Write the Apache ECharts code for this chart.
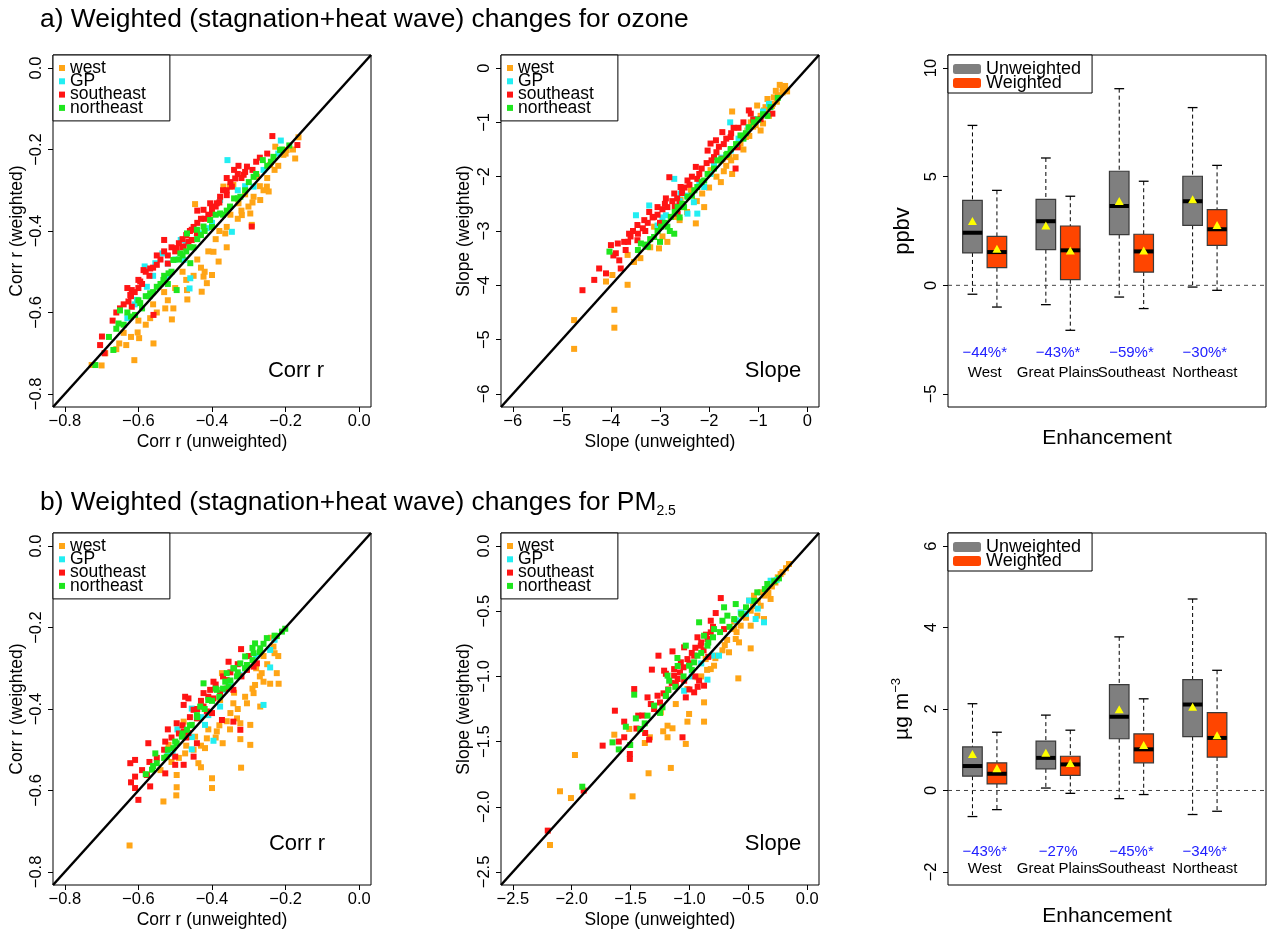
<!DOCTYPE html>
<html><head><meta charset="utf-8">
<script src="https://cdn.jsdelivr.net/npm/echarts@6/dist/echarts.min.js"></script>
<style>html,body{margin:0;padding:0;background:#fff}#c{width:1267px;height:931px}</style>
</head><body><div id="c"></div>
<script>
// ---------------- DATA ----------------
const seriesNames = ['west', 'GP', 'southeast', 'northeast'];
const regionNames = ['West', 'Great Plains', 'Southeast', 'Northeast'];
const pctO3 = ['\u221244%*', '\u221243%*', '\u221259%*', '\u221230%*'];
const pctPM = ['\u221243%*', '\u221227%', '\u221245%*', '\u221234%*'];

const corrTicks = [-0.8, -0.6, -0.4, -0.2, 0];
const slopeO3Ticks = [-6, -5, -4, -3, -2, -1, 0];
const slopePMTicks = [-2.5, -2, -1.5, -1, -0.5, 0];
const o3BoxTicks = [-5, 0, 5, 10];
const pmBoxTicks = [-2, 0, 2, 4, 6];

// a) ozone, correlation r : [unweighted, weighted]
const corrO3_west = [[-0.165,-0.17],[-0.174,-0.222],[-0.228,-0.193],[-0.251,-0.291],[-0.246,-0.303],[-0.301,-0.34],[-0.296,-0.357],[-0.319,-0.361],[-0.328,-0.332],[-0.292,-0.385],[-0.446,-0.334],[-0.364,-0.406],[-0.382,-0.475],[-0.4,-0.508],[-0.423,-0.512],[-0.414,-0.528],[-0.428,-0.549],[-0.468,-0.545],[-0.467,-0.568],[-0.505,-0.59],[-0.527,-0.59],[-0.509,-0.617],[-0.568,-0.614],[-0.602,-0.649],[-0.598,-0.663],[-0.559,-0.676],[-0.633,-0.68],[-0.652,-0.676],[-0.611,-0.717],[-0.727,-0.729],[-0.369,-0.291],[-0.351,-0.291],[-0.342,-0.287],[-0.287,-0.316],[-0.269,-0.324],[-0.278,-0.267],[-0.242,-0.238],[-0.197,-0.201],[-0.206,-0.213],[-0.396,-0.451],[-0.2,-0.21],[-0.23,-0.25],[-0.27,-0.29],[-0.31,-0.31],[-0.35,-0.36],[-0.38,-0.4],[-0.44,-0.47],[-0.48,-0.5],[-0.53,-0.55],[-0.56,-0.58],[-0.6,-0.62],[-0.64,-0.65],[-0.69,-0.7],
  [-0.18,-0.2],[-0.22,-0.24],[-0.25,-0.27],[-0.26,-0.3],[-0.29,-0.33],[-0.32,-0.35],[-0.33,-0.37],[-0.36,-0.39],[-0.39,-0.42],[-0.41,-0.45],[-0.43,-0.49],[-0.45,-0.51],[-0.47,-0.52],[-0.5,-0.54],[-0.52,-0.57],[-0.55,-0.6],[-0.58,-0.63],[-0.62,-0.66],[-0.66,-0.69],[-0.7,-0.73],[-0.36,-0.44],[-0.42,-0.5]];
const corrO3_gp = [[-0.213,-0.178],[-0.358,-0.226],[-0.287,-0.291],[-0.346,-0.402],[-0.378,-0.324],[-0.432,-0.406],[-0.485,-0.422],[-0.535,-0.455],[-0.554,-0.479],[-0.583,-0.487],[-0.577,-0.537],[-0.604,-0.569],[-0.459,-0.516],[-0.461,-0.541],[-0.523,-0.512],[-0.477,-0.471],[-0.63,-0.614],[-0.414,-0.393],[-0.26,-0.25],[-0.31,-0.29],[-0.4,-0.38],[-0.5,-0.47],
  [-0.22,-0.21],[-0.33,-0.3],[-0.44,-0.4],[-0.47,-0.43],[-0.52,-0.48],[-0.56,-0.51],[-0.61,-0.58]];
const corrO3_se = [[-0.236,-0.167],[-0.168,-0.189],[-0.328,-0.24],[-0.305,-0.242],[-0.314,-0.262],[-0.337,-0.271],[-0.346,-0.291],[-0.36,-0.312],[-0.378,-0.316],[-0.387,-0.332],[-0.405,-0.332],[-0.423,-0.348],[-0.4,-0.357],[-0.441,-0.406],[-0.455,-0.422],[-0.464,-0.426],[-0.477,-0.438],[-0.496,-0.442],[-0.53,-0.422],[-0.55,-0.483],[-0.568,-0.492],[-0.586,-0.496],[-0.595,-0.524],[-0.618,-0.545],[-0.622,-0.557],[-0.627,-0.573],[-0.618,-0.586],[-0.559,-0.606],[-0.699,-0.659],[-0.704,-0.68],[-0.692,-0.7],[-0.292,-0.389],[-0.455,-0.397],[-0.25,-0.21],[-0.28,-0.23],[-0.36,-0.3],[-0.42,-0.37],[-0.44,-0.38],[-0.47,-0.41],[-0.5,-0.45],[-0.52,-0.46],[-0.54,-0.47],[-0.57,-0.51],[-0.59,-0.53],[-0.61,-0.55],[-0.64,-0.58],[-0.66,-0.6],[-0.32,-0.27],[-0.39,-0.34],
  [-0.27,-0.22],[-0.29,-0.25],[-0.31,-0.255],[-0.33,-0.26],[-0.35,-0.28],[-0.37,-0.3],[-0.38,-0.33],[-0.4,-0.345],[-0.41,-0.36],[-0.43,-0.37],[-0.45,-0.39],[-0.46,-0.4],[-0.48,-0.42],[-0.49,-0.43],[-0.51,-0.44],[-0.53,-0.45],[-0.55,-0.46],[-0.56,-0.49],[-0.58,-0.5],[-0.6,-0.52],[-0.6,-0.54],[-0.62,-0.56],[-0.63,-0.54],[-0.65,-0.59],[-0.67,-0.62],[-0.34,-0.25],[-0.36,-0.27],[-0.44,-0.35],[-0.48,-0.44],[-0.52,-0.48]];
const corrO3_ne = [[-0.262,-0.226],[-0.233,-0.218],[-0.215,-0.201],[-0.287,-0.267],[-0.323,-0.316],[-0.351,-0.34],[-0.378,-0.357],[-0.405,-0.373],[-0.423,-0.389],[-0.441,-0.397],[-0.468,-0.406],[-0.486,-0.455],[-0.505,-0.471],[-0.518,-0.504],[-0.532,-0.52],[-0.55,-0.537],[-0.568,-0.553],[-0.595,-0.577],[-0.609,-0.606],[-0.65,-0.595],[-0.654,-0.627],[-0.668,-0.692],[-0.717,-0.729],[-0.496,-0.545],[-0.459,-0.479],[-0.19,-0.19],[-0.3,-0.28],[-0.34,-0.32],[-0.36,-0.35],[-0.39,-0.36],[-0.43,-0.41],[-0.48,-0.46],[-0.56,-0.55],[-0.58,-0.56],[-0.62,-0.61],[-0.64,-0.63],
  [-0.21,-0.2],[-0.24,-0.23],[-0.25,-0.24],[-0.28,-0.26],[-0.31,-0.3],[-0.33,-0.32],[-0.37,-0.36],[-0.4,-0.39],[-0.42,-0.4],[-0.44,-0.42],[-0.45,-0.44],[-0.47,-0.45],[-0.49,-0.47],[-0.51,-0.5],[-0.53,-0.51],[-0.54,-0.53],[-0.57,-0.56],[-0.59,-0.59],[-0.6,-0.57],[-0.63,-0.6],[-0.66,-0.64],[-0.68,-0.66],[-0.46,-0.44],[-0.52,-0.53]];

// a) ozone, slope
const slopeO3_west = [[-0.56,-0.31],[-0.64,-0.42],[-0.41,-0.43],[-0.81,-0.57],[-1.02,-0.69],[-0.88,-0.78],[-0.78,-0.88],[-1.53,-0.8],[-0.95,-1.15],[-1.25,-1.27],[-1.36,-1.39],[-1.46,-1.64],[-1.53,-1.95],[-1.76,-2.1],[-1.59,-1.64],[-2.14,-2.31],[-2.1,-2.56],[-2.27,-2.86],[-2.85,-3.2],[-3.02,-3.32],[-3.53,-3.57],[-3.66,-3.44],[-3.97,-3.81],[-4.1,-3.93],[-3.66,-3.99],[-3.93,-4.45],[-3.93,-4.78],[-4.75,-4.64],[-4.75,-5.17],[-2.54,-2.56],[-2.58,-2.43],[-3.12,-2.92],[-1.76,-1.7],[-1.22,-1.15],[-1.02,-0.94],[-1.97,-1.88],[-2.37,-2.25],[-2.71,-2.74],[-1.15,-1.0],[-0.68,-0.54],[-0.7,-0.66],[-0.85,-0.72],[-0.6,-0.5],[-0.5,-0.37],[-0.9,-1.02],[-1.1,-1.08],[-1.3,-1.5],[-1.7,-1.9],
  [-0.45,-0.33],[-0.5,-0.45],[-0.62,-0.62],[-0.72,-0.7],[-0.95,-0.88],[-1.05,-1.05],[-1.18,-1.25],[-1.4,-1.45],[-1.55,-1.7],[-1.65,-1.8],[-1.85,-2.0],[-2.0,-2.2],[-2.25,-2.45],[-2.45,-2.65],[-2.6,-2.8],[-2.95,-3.1],[-3.2,-3.3],[-3.4,-3.5]];
const slopeO3_gp = [[-1.57,-1.0],[-2.71,-2.04],[-3.22,-2.53],[-3.49,-2.71],[-2.88,-2.71],[-2.44,-2.68],[-2.24,-2.68],[-2.31,-2.47],[-1.97,-1.95],[-1.56,-1.52],[-1.09,-0.94],[-0.78,-0.66],[-2.1,-2.19],[-2.58,-2.31],
  [-1.2,-1.1],[-1.4,-1.3],[-1.75,-1.65],[-1.9,-1.8],[-2.2,-2.1],[-2.45,-2.35],[-2.6,-2.45],[-2.95,-2.75],[-3.05,-2.9],[-0.9,-0.8]];
const slopeO3_se = [[-1.19,-0.78],[-0.71,-0.84],[-1.73,-1.18],[-1.86,-1.33],[-1.56,-1.27],[-1.42,-1.46],[-2.03,-1.52],[-1.9,-1.64],[-1.73,-1.67],[-1.46,-1.85],[-2.27,-1.82],[-2.44,-2.07],[-2.81,-2.01],[-2.58,-2.19],[-2.71,-2.31],[-2.88,-2.4],[-2.85,-2.56],[-3.05,-2.56],[-3.22,-2.65],[-3.32,-2.8],[-3.46,-2.89],[-3.63,-3.05],[-3.73,-3.2],[-3.86,-3.23],[-4.0,-3.26],[-3.9,-3.41],[-3.83,-3.54],[-3.8,-3.69],[-4.1,-3.78],[-4.24,-3.69],[-4.34,-3.9],[-4.58,-4.09],[-3.46,-3.17],[-3.12,-2.74],[-2.64,-2.68],[-2.24,-2.04],[-1.97,-1.39],[-1.15,-0.84],[-0.95,-0.94],
  [-3.55,-3.0],[-3.45,-3.05],[-3.35,-2.95],[-3.25,-2.85],[-3.15,-2.75],[-3.05,-2.7],[-2.95,-2.6],[-2.9,-2.5],[-2.75,-2.45],[-2.65,-2.4],[-2.55,-2.3],[-2.5,-2.2],[-2.4,-2.15],[-2.35,-2.0],[-2.2,-1.95],[-2.15,-1.85],[-2.05,-1.75],[-1.95,-1.7],[-1.85,-1.55],[-1.8,-1.45],[-1.7,-1.4],[-1.65,-1.3],[-1.55,-1.2],[-1.5,-1.1],[-1.4,-1.1],[-1.3,-1.0],[-1.1,-0.95],[-3.65,-3.2],[-3.7,-3.35],[-3.95,-3.45],[-3.6,-3.1],[-3.3,-3.0],[-2.7,-2.55],[-2.6,-2.5],[-3.0,-2.85]];
const slopeO3_ne = [[-0.75,-0.72],[-0.81,-0.88],[-1.19,-1.09],[-1.36,-1.24],[-1.56,-1.49],[-1.83,-1.7],[-2.03,-1.95],[-2.24,-2.19],[-2.44,-2.37],[-2.64,-2.56],[-2.78,-2.74],[-2.98,-2.92],[-3.12,-3.11],[-3.25,-3.29],[-2.71,-3.05],[-2.85,-2.92],[-4.03,-3.38],[-3.39,-3.23],[-2.51,-2.56],[-2.1,-2.07],[-1.63,-1.58],[-1.09,-1.0],
  [-0.6,-0.55],[-0.9,-0.85],[-1.0,-0.95],[-1.25,-1.2],[-1.45,-1.4],[-1.65,-1.6],[-1.75,-1.68],[-1.9,-1.85],[-2.15,-2.1],[-2.3,-2.25],[-2.35,-2.35],[-2.55,-2.5],[-2.7,-2.65],[-2.9,-2.85],[-3.05,-3.0],[-3.2,-3.15],[-3.3,-3.25],[-3.45,-3.35],[-2.6,-2.75],[-2.8,-3.0],[-3.0,-3.2],[-1.3,-1.3]];

// b) PM2.5, correlation r
const corrPM_west = [[-0.24,-0.225],[-0.23,-0.263],[-0.224,-0.312],[-0.219,-0.338],[-0.242,-0.338],[-0.265,-0.312],[-0.26,-0.333],[-0.283,-0.341],[-0.287,-0.361],[-0.269,-0.394],[-0.296,-0.439],[-0.323,-0.435],[-0.332,-0.423],[-0.351,-0.45],[-0.323,-0.474],[-0.296,-0.488],[-0.371,-0.484],[-0.387,-0.455],[-0.378,-0.378],[-0.373,-0.312],[-0.414,-0.472],[-0.419,-0.496],[-0.437,-0.533],[-0.43,-0.543],[-0.4,-0.57],[-0.4,-0.594],[-0.321,-0.544],[-0.496,-0.562],[-0.496,-0.592],[-0.497,-0.612],[-0.532,-0.627],[-0.624,-0.735],[-0.477,-0.431],[-0.473,-0.509],[-0.518,-0.488],[-0.446,-0.468],[-0.342,-0.386],[-0.305,-0.386],[-0.233,-0.247],
  [-0.22,-0.27],[-0.25,-0.29],[-0.27,-0.32],[-0.29,-0.35],[-0.31,-0.37],[-0.33,-0.4],[-0.35,-0.41],[-0.36,-0.43],[-0.38,-0.44],[-0.39,-0.47],[-0.41,-0.45],[-0.43,-0.49],[-0.45,-0.5],[-0.47,-0.49],[-0.49,-0.52],[-0.51,-0.53],[-0.54,-0.55],[-0.28,-0.3],[-0.34,-0.36],[-0.26,-0.27]];
const corrPM_gp = [[-0.242,-0.255],[-0.242,-0.298],[-0.26,-0.39],[-0.325,-0.316],[-0.369,-0.353],[-0.378,-0.394],[-0.419,-0.439],[-0.396,-0.478],[-0.455,-0.399],[-0.494,-0.45],[-0.455,-0.469],[-0.455,-0.499],[-0.507,-0.509],[-0.41,-0.415],
  [-0.28,-0.27],[-0.31,-0.3],[-0.35,-0.34],[-0.43,-0.42],[-0.47,-0.46],[-0.52,-0.51],[-0.23,-0.23]];
const corrPM_se = [[-0.321,-0.253],[-0.355,-0.284],[-0.36,-0.329],[-0.396,-0.333],[-0.405,-0.353],[-0.423,-0.361],[-0.473,-0.37],[-0.477,-0.39],[-0.464,-0.374],[-0.45,-0.402],[-0.414,-0.406],[-0.373,-0.427],[-0.342,-0.431],[-0.323,-0.451],[-0.496,-0.435],[-0.477,-0.455],[-0.464,-0.459],[-0.441,-0.484],[-0.45,-0.517],[-0.477,-0.537],[-0.5,-0.537],[-0.5,-0.517],[-0.527,-0.48],[-0.527,-0.558],[-0.573,-0.484],[-0.609,-0.525],[-0.622,-0.533],[-0.609,-0.566],[-0.577,-0.562],[-0.568,-0.59],[-0.609,-0.594],[-0.6,-0.623],[-0.287,-0.296],[-0.305,-0.304],[-0.278,-0.288],[-0.342,-0.353],[-0.378,-0.361],[-0.423,-0.394],[-0.396,-0.374],[-0.441,-0.423],
  [-0.3,-0.27],[-0.33,-0.29],[-0.35,-0.31],[-0.37,-0.32],[-0.39,-0.34],[-0.41,-0.37],[-0.43,-0.38],[-0.44,-0.4],[-0.46,-0.42],[-0.48,-0.44],[-0.49,-0.46],[-0.51,-0.47],[-0.53,-0.5],[-0.55,-0.52],[-0.57,-0.53],[-0.59,-0.55],[-0.62,-0.58],[-0.32,-0.32],[-0.36,-0.35],[-0.4,-0.41],[-0.47,-0.47],[-0.52,-0.45]];
const corrPM_ne = [[-0.201,-0.203],[-0.224,-0.221],[-0.251,-0.226],[-0.283,-0.239],[-0.269,-0.251],[-0.287,-0.263],[-0.31,-0.271],[-0.323,-0.288],[-0.342,-0.3],[-0.332,-0.32],[-0.364,-0.333],[-0.387,-0.353],[-0.423,-0.337],[-0.41,-0.378],[-0.432,-0.394],[-0.441,-0.415],[-0.455,-0.439],[-0.468,-0.451],[-0.482,-0.468],[-0.496,-0.484],[-0.505,-0.496],[-0.523,-0.517],[-0.55,-0.533],[-0.554,-0.509],[-0.563,-0.549],[-0.305,-0.292],[-0.36,-0.312],[-0.355,-0.345],
  [-0.21,-0.21],[-0.23,-0.22],[-0.26,-0.24],[-0.27,-0.26],[-0.29,-0.28],[-0.31,-0.3],[-0.33,-0.31],[-0.35,-0.33],[-0.37,-0.35],[-0.38,-0.37],[-0.4,-0.38],[-0.42,-0.4],[-0.44,-0.42],[-0.46,-0.44],[-0.48,-0.46],[-0.5,-0.48],[-0.52,-0.5],[-0.53,-0.52],[-0.56,-0.54],[-0.58,-0.56],[-0.39,-0.35],[-0.34,-0.3],[-0.29,-0.25]];

// b) PM2.5, slope
const slopePM_west = [[-0.155,-0.138],[-0.226,-0.215],[-0.282,-0.266],[-0.339,-0.33],[-0.395,-0.355],[-0.452,-0.381],[-0.494,-0.419],[-0.311,-0.406],[-0.395,-0.458],[-0.424,-0.534],[-0.48,-0.611],[-0.565,-0.611],[-0.621,-0.637],[-0.607,-0.713],[-0.48,-0.785],[-0.579,-0.739],[-0.664,-0.815],[-0.777,-0.841],[-0.791,-0.918],[-0.862,-0.867],[-0.819,-0.944],[-0.932,-1.007],[-0.585,-1.015],[-1.017,-1.097],[-1.116,-1.212],[-1.003,-1.288],[-1.017,-1.347],[-0.876,-1.347],[-1.186,-1.378],[-1.144,-1.398],[-1.223,-1.421],[-1.186,-1.467],[-1.031,-1.518],[-1.336,-1.467],[-1.379,-1.511],[-1.511,-1.403],[-1.638,-1.447],[-1.158,-1.702],[-1.347,-1.743],[-1.483,-1.92],[-1.972,-1.603],[-2.099,-1.881],[-2.006,-1.933],[-2.184,-2.293],[-0.876,-1.199],[-1.243,-1.276],[-0.48,-0.496],[-0.367,-0.56],
  [-0.18,-0.17],[-0.21,-0.2],[-0.25,-0.24],[-0.3,-0.31],[-0.33,-0.36],[-0.36,-0.38],[-0.42,-0.42],[-0.46,-0.46],[-0.52,-0.55],[-0.6,-0.66],[-0.68,-0.72],[-0.72,-0.8],[-0.85,-0.95],[-0.9,-1.0],[-0.78,-0.86],[-0.62,-0.58],[-0.55,-0.53],[-0.7,-0.76],[-0.27,-0.28]];
const slopePM_gp = [[-0.311,-0.266],[-0.494,-0.419],[-0.565,-0.509],[-0.438,-0.56],[-0.367,-0.585],[-0.805,-0.841],[-0.749,-0.841],[-0.847,-1.025],[-1.045,-1.11],
  [-0.26,-0.26],[-0.42,-0.48],[-0.52,-0.52],[-0.6,-0.57],[-0.9,-0.9],[-0.98,-1.0]];
const slopePM_se = [[-0.734,-0.399],[-0.777,-0.514],[-0.819,-0.573],[-0.706,-0.637],[-0.932,-0.7],[-0.847,-0.713],[-0.904,-0.764],[-1.045,-0.777],[-1.263,-0.841],[-1.144,-0.808],[-0.96,-0.841],[-1.017,-0.867],[-1.073,-0.892],[-1.13,-0.944],[-1.215,-0.956],[-1.319,-0.948],[-1.13,-0.994],[-1.045,-1.033],[-0.918,-1.033],[-0.876,-1.071],[-0.96,-1.122],[-1.116,-1.058],[-1.201,-1.148],[-1.271,-1.148],[-1.356,-1.161],[-1.328,-1.212],[-1.469,-1.097],[-1.633,-1.263],[-1.554,-1.347],[-1.435,-1.301],[-1.554,-1.467],[-1.506,-1.595],[-1.506,-1.633],[-1.376,-1.434],[-1.342,-1.485],[-1.737,-1.531],[-1.898,-1.876],[-2.203,-2.183],[-1.059,-1.467],[-1.031,-1.161],[-0.819,-0.662],
  [-0.8,-0.62],[-0.86,-0.68],[-0.9,-0.74],[-0.95,-0.78],[-0.98,-0.82],[-1.0,-0.9],[-1.05,-0.93],[-1.08,-0.97],[-1.1,-1.02],[-1.15,-1.05],[-1.18,-1.1],[-1.22,-1.13],[-1.25,-1.2],[-1.3,-1.25],[-1.4,-1.3],[-1.45,-1.4],[-0.88,-0.8],[-0.84,-0.85],[-0.95,-1.0],[-1.0,-1.1],[-0.93,-1.08],[-1.2,-0.98],[-1.6,-1.5]];
const slopePM_ne = [[-0.24,-0.248],[-0.339,-0.291],[-0.424,-0.355],[-0.607,-0.445],[-0.706,-0.47],[-0.678,-0.534],[-0.72,-0.573],[-0.791,-0.637],[-0.918,-0.585],[-0.876,-0.688],[-0.847,-0.764],[-0.932,-0.841],[-1.031,-0.764],[-1.102,-0.859],[-1.003,-0.918],[-0.96,-0.892],[-1.186,-0.994],[-1.172,-1.033],[-1.18,-1.104],[-1.229,-1.237],[-1.3,-1.224],[-1.356,-1.301],[-1.455,-1.322],[-1.469,-1.14],[-1.54,-1.386],[-1.653,-1.506],[-1.418,-1.403],[-1.503,-1.526],[-1.91,-1.846],
  [-0.28,-0.27],[-0.36,-0.33],[-0.45,-0.42],[-0.52,-0.47],[-0.56,-0.52],[-0.62,-0.56],[-0.66,-0.62],[-0.74,-0.66],[-0.8,-0.7],[-0.84,-0.74],[-0.9,-0.82],[-0.98,-0.95],[-1.05,-1.0],[-1.12,-1.08],[-1.2,-1.15],[-1.25,-1.28],[-1.38,-1.36],[-1.6,-1.56],[-1.1,-0.92]];

// box statistics per region: [lower whisker, Q1, median, Q3, upper whisker, mean]
const o3Unweighted = [[-0.41,1.49,2.42,3.91,7.36,2.91],[-0.89,1.64,2.95,3.96,5.86,2.71],[-0.54,2.33,3.65,5.25,9.05,3.83],[-0.08,2.76,3.87,5.02,8.18,3.91]];
const o3Weighted   = [[-1.00,0.81,1.53,2.25,4.37,1.64],[-2.07,0.26,1.61,2.73,4.10,1.56],[-1.07,0.61,1.56,2.35,4.79,1.56],[-0.23,1.84,2.58,3.48,5.52,2.73]];
const pmUnweighted = [[-0.64,0.35,0.60,1.07,2.13,0.87],[0.06,0.53,0.80,1.21,1.85,0.90],[-0.20,1.27,1.81,2.60,3.77,1.97],[-0.59,1.32,2.11,2.72,4.70,2.03]];
const pmWeighted   = [[-0.47,0.16,0.41,0.68,1.43,0.52],[-0.07,0.37,0.64,0.84,1.48,0.65],[-0.10,0.68,1.01,1.39,2.25,1.09],[-0.51,0.82,1.29,1.91,2.95,1.33]];

// ---------------- CHART ----------------
const FONT = "'Liberation Sans', Arial, Helvetica, sans-serif";
const COL = {west: '#FFA516', GP: '#22EEF2', southeast: '#FF1414', northeast: '#1EE61E'};
const BOXCOL = {Unweighted: '#7F7F7F', Weighted: '#FF4500'};

const gridPos = [[53,55],[501,55],[948,55],[53,533],[501,533],[948,533]];
const grids = gridPos.map(p => ({left: p[0], top: p[1], width: 318, height: 352, show: true,
  borderColor: '#000', borderWidth: 1, backgroundColor: '#fff', containLabel: false, outerBoundsMode: 'none'}));

const ranges = [
  {x: [-0.832, 0.032], y: [-0.832, 0.032]},
  {x: [-6.24, 0.24], y: [-6.24, 0.24]},
  {x: [0, 13], y: [-5.6, 10.6]},
  {x: [-0.832, 0.032], y: [-0.832, 0.032]},
  {x: [-2.6, 0.1], y: [-2.6, 0.1]},
  {x: [0, 13], y: [-2.32, 6.32]}
];

function fmt(dec) { return v => (v < -1e-9 ? '\u2212' : '') + Math.abs(v).toFixed(dec); }

function xAxisCfg(gi, ticks, dec, name) {
  const r = ranges[gi];
  return {type: 'value', gridIndex: gi, min: r.x[0], max: r.x[1], name: name, nameLocation: 'middle',
    nameGap: 26, nameMoveOverlap: false,
    nameTextStyle: {fontSize: 17.5, color: '#000', fontFamily: FONT},
    axisLine: {show: false, onZero: false}, splitLine: {show: false},
    axisTick: {show: true, customValues: ticks, length: 5, lineStyle: {color: '#000', width: 1}},
    axisLabel: {show: true, customValues: ticks, formatter: fmt(dec), fontSize: 16.5, color: '#000', fontFamily: FONT, margin: 6}};
}
function yAxisCfg(gi, ticks, dec, name, nameGap, nameStyle) {
  const r = ranges[gi];
  return {type: 'value', gridIndex: gi, min: r.y[0], max: r.y[1], name: name, nameLocation: 'middle',
    nameGap: nameGap, nameMoveOverlap: false,
    nameTextStyle: Object.assign({fontSize: 17.5, color: '#000', fontFamily: FONT}, nameStyle || {}),
    axisLine: {show: false, onZero: false}, splitLine: {show: false},
    axisTick: {show: true, customValues: ticks, length: 5, lineStyle: {color: '#000', width: 1}},
    axisLabel: {show: true, customValues: ticks, formatter: fmt(dec), rotate: 90, fontSize: 16.5, color: '#000', fontFamily: FONT, margin: 8}};
}
function boxXAxis(gi) {
  const r = ranges[gi];
  return {type: 'value', gridIndex: gi, min: r.x[0], max: r.x[1], name: 'Enhancement', nameLocation: 'middle',
    nameGap: 21, nameMoveOverlap: false,
    nameTextStyle: {fontSize: 21, color: '#000', fontFamily: FONT},
    axisLine: {show: false, onZero: false}, axisTick: {show: false}, axisLabel: {show: false}, splitLine: {show: false}};
}

const xAxes = [
  xAxisCfg(0, corrTicks, 1, 'Corr r (unweighted)'),
  xAxisCfg(1, slopeO3Ticks, 0, 'Slope (unweighted)'),
  boxXAxis(2),
  xAxisCfg(3, corrTicks, 1, 'Corr r (unweighted)'),
  xAxisCfg(4, slopePMTicks, 1, 'Slope (unweighted)'),
  boxXAxis(5)
];
const yAxes = [
  yAxisCfg(0, corrTicks, 1, 'Corr r (weighted)', 27),
  yAxisCfg(1, slopeO3Ticks, 0, 'Slope (weighted)', 28),
  yAxisCfg(2, o3BoxTicks, 0, 'ppbv', 34, {fontSize: 22}),
  yAxisCfg(3, corrTicks, 1, 'Corr r (weighted)', 27),
  yAxisCfg(4, slopePMTicks, 1, 'Slope (weighted)', 28),
  yAxisCfg(5, pmBoxTicks, 0, '{a|\u00b5g m}{s|\u22123}', 34, {rich: {
    a: {fontSize: 21, lineHeight: 24, color: '#000', fontFamily: FONT},
    s: {fontSize: 13, lineHeight: 13, verticalAlign: 'top', color: '#000', fontFamily: FONT}}})
];

const series = [];
function addScatter(gi, sets) {
  sets.forEach((d, k) => {
    const nm = seriesNames[k];
    series.push({type: 'scatter', name: nm, xAxisIndex: gi, yAxisIndex: gi, data: d,
      symbol: 'rect', symbolSize: 6, itemStyle: {color: COL[nm], opacity: 1}, silent: true});
  });
  const r = ranges[gi];
  series.push({type: 'line', name: 'one-to-one', xAxisIndex: gi, yAxisIndex: gi,
    data: [[r.x[0], r.y[0]], [r.x[1], r.y[1]]], symbol: 'none', clip: true, silent: true,
    lineStyle: {color: '#000', width: 2.5}, z: 3});
}
addScatter(0, [corrO3_west, corrO3_gp, corrO3_se, corrO3_ne]);
addScatter(1, [slopeO3_west, slopeO3_gp, slopeO3_se, slopeO3_ne]);
addScatter(3, [corrPM_west, corrPM_gp, corrPM_se, corrPM_ne]);
addScatter(4, [slopePM_west, slopePM_gp, slopePM_se, slopePM_ne]);

function renderBox(params, api) {
  const x = api.value(0);
  const lo = api.value(1), q1 = api.value(2), md = api.value(3), q3 = api.value(4), hi = api.value(5), mn = api.value(6);
  const c = api.visual('color');
  const L = api.coord([x - 0.4, q3]), R = api.coord([x + 0.4, q1]);
  const cx = api.coord([x, md])[0];
  const yHi = api.coord([x, hi])[1], yLo = api.coord([x, lo])[1], yMd = api.coord([x, md])[1];
  const mp = api.coord([x, mn]);
  const cap = (R[0] - L[0]) / 4;
  const dash = {stroke: '#000', lineWidth: 1, lineDash: [4, 3]};
  return {type: 'group', children: [
    {type: 'line', shape: {x1: cx, y1: yHi, x2: cx, y2: L[1]}, style: dash},
    {type: 'line', shape: {x1: cx, y1: R[1], x2: cx, y2: yLo}, style: dash},
    {type: 'line', shape: {x1: cx - cap, y1: yHi, x2: cx + cap, y2: yHi}, style: {stroke: '#000', lineWidth: 1.3}},
    {type: 'line', shape: {x1: cx - cap, y1: yLo, x2: cx + cap, y2: yLo}, style: {stroke: '#000', lineWidth: 1.3}},
    {type: 'rect', shape: {x: L[0], y: L[1], width: R[0] - L[0], height: R[1] - L[1]}, style: {fill: c, stroke: '#3a3a3a', lineWidth: 1.2}},
    {type: 'line', shape: {x1: L[0], y1: yMd, x2: R[0], y2: yMd}, style: {stroke: '#000', lineWidth: 4}},
    {type: 'polygon', shape: {points: [[mp[0], mp[1] - 5], [mp[0] - 4.5, mp[1] + 3], [mp[0] + 4.5, mp[1] + 3]]}, style: {fill: '#FFFF00'}}
  ]};
}
function addBoxPanel(gi, unw, wtd, pct, yPct, yName) {
  const r = ranges[gi];
  series.push({type: 'line', name: 'zero', xAxisIndex: gi, yAxisIndex: gi, data: [[r.x[0], 0], [r.x[1], 0]],
    symbol: 'none', silent: true, lineStyle: {color: '#444', width: 1, type: [4, 4]}});
  [['Unweighted', unw, 1], ['Weighted', wtd, 2]].forEach(([nm, arr, off]) => {
    series.push({type: 'custom', name: nm, xAxisIndex: gi, yAxisIndex: gi, silent: true,
      itemStyle: {color: BOXCOL[nm]},
      data: arr.map((b, i) => [3 * i + off].concat(b)),
      encode: {x: 0, y: [1, 2, 3, 4, 5, 6]},
      renderItem: renderBox});
  });
  const txt = (labels, y, color) => ({type: 'custom', name: 'labels', xAxisIndex: gi, yAxisIndex: gi, silent: true,
    data: labels.map((t, i) => [3 * i + 1.5, y]), encode: {x: 0, y: 1},
    renderItem: (params, api) => {
      const p = api.coord([api.value(0), api.value(1)]);
      return {type: 'text', x: p[0], y: p[1], style: {text: labels[params.dataIndex], fill: color,
        fontSize: 15, fontFamily: FONT, align: 'center', verticalAlign: 'middle'}};
    }});
  series.push(txt(pct, yPct, '#2020FF'));
  series.push(txt(regionNames, yName, '#000'));
}
addBoxPanel(2, o3Unweighted, o3Weighted, pctO3, -3.1, -4.05);
addBoxPanel(5, pmUnweighted, pmWeighted, pctPM, -1.5, -1.92);

function scLegend(gi) {
  return {left: gridPos[gi][0], top: gridPos[gi][1], orient: 'vertical', data: seriesNames, icon: 'rect',
    itemWidth: 6, itemHeight: 6, itemGap: -4.7, padding: [4, 24, 4, 6], borderColor: '#000', borderWidth: 1,
    borderRadius: 0, backgroundColor: '#fff', selectedMode: false,
    textStyle: {fontSize: 17.5, color: '#000', fontFamily: FONT}};
}
function boxLegend(gi) {
  return {left: gridPos[gi][0], top: gridPos[gi][1], orient: 'vertical', data: ['Unweighted', 'Weighted'], icon: 'roundRect',
    itemWidth: 28, itemHeight: 10, itemGap: -4, padding: [5, 11, 1, 5], borderColor: '#000', borderWidth: 1,
    borderRadius: 0, backgroundColor: '#fff', selectedMode: false,
    textStyle: {fontSize: 18, color: '#000', fontFamily: FONT}};
}

const insetStyle = t => ({text: t, fontSize: 22, fontFamily: FONT, fill: '#000', align: 'center', verticalAlign: 'middle'});

const option = {
  animation: false,
  backgroundColor: '#fff',
  textStyle: {fontFamily: FONT},
  title: [
    {text: 'a) Weighted (stagnation+heat wave) changes for ozone', left: 40, top: 5, padding: 0,
      textStyle: {fontSize: 26.4, fontWeight: 'normal', color: '#000', fontFamily: FONT, lineHeight: 30}},
    {text: '{m|b) Weighted (stagnation+heat wave) changes for PM}{s|2.5}', left: 40, top: 488, padding: 0,
      textStyle: {fontWeight: 'normal', rich: {
        m: {fontSize: 26.4, lineHeight: 30, fontWeight: 'normal', color: '#000', fontFamily: FONT},
        s: {fontSize: 14, lineHeight: 14, fontWeight: 'normal', verticalAlign: 'bottom', color: '#000', fontFamily: FONT}}}}
  ],
  grid: grids,
  xAxis: xAxes,
  yAxis: yAxes,
  legend: [scLegend(0), scLegend(1), boxLegend(2), scLegend(3), scLegend(4), boxLegend(5)],
  graphic: [
    {type: 'text', x: 296, y: 371, style: insetStyle('Corr r'), z: 10},
    {type: 'text', x: 773, y: 371, style: insetStyle('Slope'), z: 10},
    {type: 'text', x: 297, y: 844, style: insetStyle('Corr r'), z: 10},
    {type: 'text', x: 773, y: 844, style: insetStyle('Slope'), z: 10}
  ],
  series: series
};
const chart = echarts.init(document.getElementById('c'), null, {renderer: 'canvas'});
chart.setOption(option);
</script></body></html>
